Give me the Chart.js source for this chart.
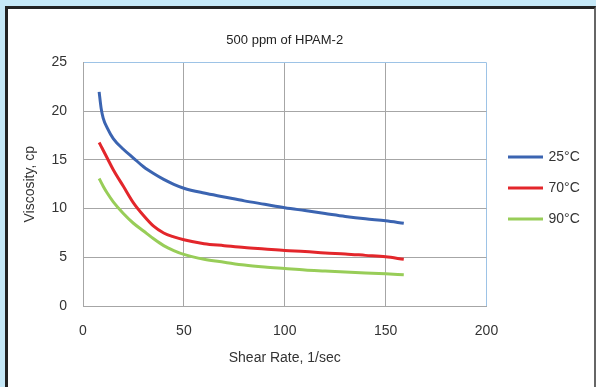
<!DOCTYPE html>
<html>
<head>
<meta charset="utf-8">
<script src="https://cdn.jsdelivr.net/npm/chart.js@4"></script>
<style>
  html, body { margin: 0; padding: 0; }
  body { width: 596px; height: 387px; background: #c5e8f7; position: relative; overflow: hidden; }
  .frame {
    position: absolute; left: 5px; top: 6px; width: 586px; height: 400px;
    background: #fff;
    border-left: 3px solid #222; border-top: 3px solid #222; border-right: 2px solid #666;
  }
  canvas { position: absolute; left: 0; top: 0; }
</style>
</head>
<body>
<div class="frame"></div>
<canvas id="viscosityChart" width="596" height="387"></canvas>
<script>
const chartTitle = "500 ppm of HPAM-2";
const seriesNames = ["25°C", "70°C", "90°C"];
const seriesColors = ["#3b64b1", "#e3262b", "#98cd58"];

const shearRate = [8, 9, 10, 12, 15, 20, 25, 30, 35, 40, 45, 50, 60, 70, 80, 90, 100, 110, 120, 130, 140, 150, 159];
const visc25 = [22.0, 20.3, 19.3, 18.3, 17.2, 16.1, 15.2, 14.3, 13.6, 13.0, 12.5, 12.1, 11.6, 11.2, 10.8, 10.45, 10.1, 9.8, 9.5, 9.2, 8.95, 8.75, 8.5];
const visc70 = [16.8, 16.4, 16.0, 15.2, 14.0, 12.3, 10.6, 9.3, 8.2, 7.5, 7.1, 6.8, 6.4, 6.2, 6.0, 5.85, 5.7, 5.6, 5.45, 5.35, 5.2, 5.05, 4.8];
const visc90 = [13.1, 12.7, 12.3, 11.6, 10.7, 9.5, 8.5, 7.7, 6.9, 6.2, 5.7, 5.3, 4.8, 4.5, 4.2, 4.0, 3.85, 3.7, 3.6, 3.5, 3.4, 3.3, 3.2];

const xTicks = [0, 50, 100, 150, 200];
const yTicks = [0, 5, 10, 15, 20, 25];

const ctx = document.getElementById("viscosityChart").getContext("2d");

function toPoints(values) {
    return shearRate.map((x, i) => ({ x: x, y: values[i] }));
}

const allSeries = [visc25, visc70, visc90];

const datasets = allSeries.map((values, i) => ({
    label: seriesNames[i],
    data: toPoints(values),
    borderColor: seriesColors[i],
    backgroundColor: seriesColors[i],
    borderWidth: 3,
    pointRadius: 0,
    cubicInterpolationMode: "monotone",
    fill: false
}));

Chart.defaults.font.family = "'Liberation Sans', Arial, sans-serif";

const gridGray = "#a6a6a6";
const edgeBlue = "#9dc3e6";

new Chart(ctx, {
    type: "line",
    data: { datasets: datasets },
    options: {
        responsive: false,
        animation: false,
        layout: { padding: { top: 9, left: 20, right: 9, bottom: 20 } },
        scales: {
            x: {
                type: "linear",
                min: xTicks[0],
                max: xTicks[xTicks.length - 1],
                afterFit: s => { s.height = 61; },
                ticks: { stepSize: 50, padding: 17, color: "#333", font: { size: 14 } },
                grid: {
                    drawTicks: false,
                    color: c => (c.tick && c.tick.value === 200 ? edgeBlue : gridGray)
                },
                border: { color: gridGray },
                title: { display: true, text: "Shear Rate, 1/sec", color: "#333", font: { size: 14 }, padding: 0 }
            },
            y: {
                min: yTicks[0],
                max: yTicks[yTicks.length - 1],
                afterFit: s => { s.width = 63; },
                ticks: { stepSize: 5, padding: 16, color: "#333", font: { size: 14 } },
                grid: {
                    drawTicks: false,
                    color: c => (c.tick && c.tick.value === 25 ? edgeBlue : gridGray)
                },
                border: { color: gridGray },
                title: { display: true, text: "Viscosity, cp", color: "#333", font: { size: 14 }, padding: { top: 2, bottom: 0 } }
            },
            gap: {
                position: "right",
                display: true,
                afterFit: s => { s.width = 6; },
                ticks: { display: false },
                grid: { display: false, drawTicks: false },
                border: { display: false }
            }
        },
        plugins: {
            title: {
                display: true,
                fullSize: false,
                text: chartTitle,
                color: "#222",
                font: { size: 13, weight: "normal" },
                padding: { top: 24, bottom: 14 }
            },
            legend: {
                position: "right",
                labels: {
                    boxWidth: 32,
                    boxHeight: 0.1,
                    padding: 17,
                    color: "#333",
                    font: { size: 14 }
                }
            },
            tooltip: { enabled: false }
        }
    }
});
</script>
</body>
</html>
